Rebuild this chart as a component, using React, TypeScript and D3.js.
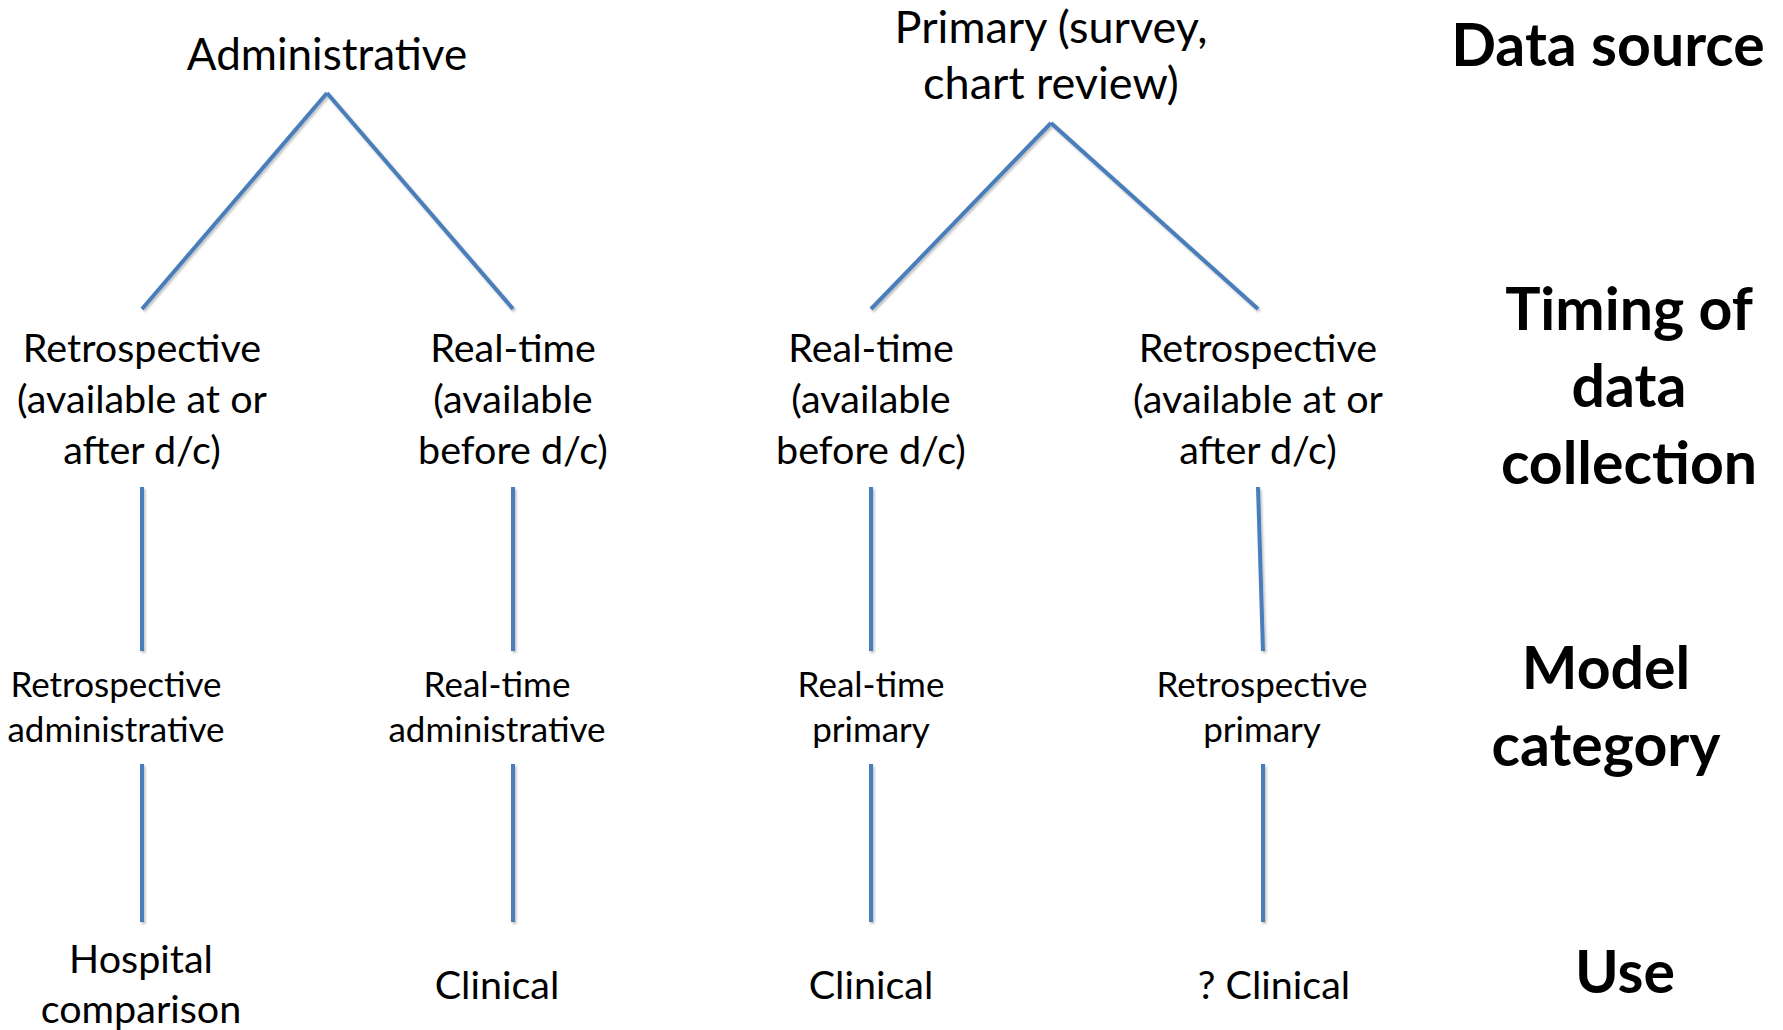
import React from 'react';
import { scaleOrdinal, line } from 'd3';

const width = 1783;
const height = 1030;

// tree content
const sourceLabels = [['Administrative'], ['Primary (survey,', 'chart review)']];
const timingLabels = [
  ['Retrospective', '(available at or', 'after d/c)'],
  ['Real-time', '(available', 'before d/c)'],
  ['Real-time', '(available', 'before d/c)'],
  ['Retrospective', '(available at or', 'after d/c)'],
];
const modelLabels = [
  ['Retrospective', 'administrative'],
  ['Real-time', 'administrative'],
  ['Real-time', 'primary'],
  ['Retrospective', 'primary'],
];
const useLabels = [['Hospital', 'comparison'], ['Clinical'], ['Clinical'], ['? Clinical']];
const tierLabels = [['Data source'], ['Timing of', 'data', 'collection'], ['Model', 'category'], ['Use']];
const parentOf = [0, 0, 1, 1];

const blue = '#4a7ebb';
const font = 'Lato, "Open Sans", sans-serif';

// layout
const srcX = scaleOrdinal<number, number>().domain([0, 1]).range([327, 1051]);
const colX = scaleOrdinal<number, number>().domain([0, 1, 2, 3]).range([142, 513, 871, 1258]);
const lowX = scaleOrdinal<number, number>().domain([0, 1, 2, 3]).range([142, 513, 871, 1263]);
const modelX = scaleOrdinal<number, number>().domain([0, 1, 2, 3]).range([116, 497, 871, 1262]);
const useX = scaleOrdinal<number, number>().domain([0, 1, 2, 3]).range([141, 497, 871, 1274]);
const apexY = [93, 123];
const branchEnd = 309;
const seg1 = [487, 651];
const seg2 = [764, 922];
const tierX = [1608, 1629, 1606, 1625];
const tierY = [66, 330, 689, 993];

const path = line<[number, number]>();

function Label({ x, y, lines, size, lh, bold }: any) {
  return (
    <text x={x} y={y} textAnchor="middle" fontFamily={font} fontSize={size} fontWeight={bold ? 700 : 400} fill="#000">
      {lines.map((l: string, i: number) => (
        <tspan key={i} x={x} y={y + i * lh}>{l}</tspan>
      ))}
    </text>
  );
}

export default function App() {
  return (
    <svg width={width} height={height} style={{ position: 'absolute', left: 0, top: 0, background: '#fff' }}>
      <defs>
        <filter id="sh" x="-20%" y="-20%" width="140%" height="140%">
          <feDropShadow dx="1.5" dy="2" stdDeviation="1.2" floodColor="#000" floodOpacity="0.25" />
        </filter>
      </defs>
      <g stroke={blue} strokeWidth={4} fill="none" filter="url(#sh)">
        {parentOf.map((p, i) => (
          <path key={'b' + i} d={path([[srcX(p), apexY[p]], [colX(i), branchEnd]]) || ''} />
        ))}
        {parentOf.map((p, i) => (
          <path key={'v1' + i} d={path([[colX(i), seg1[0]], [lowX(i), seg1[1]]]) || ''} />
        ))}
        {parentOf.map((p, i) => (
          <path key={'v2' + i} d={path([[lowX(i), seg2[0]], [lowX(i), seg2[1]]]) || ''} />
        ))}
      </g>
      {sourceLabels.map((l, i) => (
        <Label key={'s' + i} x={srcX(i)} y={i === 0 ? 70 : 43} lines={l} size={i === 0 ? 44 : 45} lh={56} />
      ))}
      {timingLabels.map((l, i) => (
        <Label key={'t' + i} x={colX(i)} y={362} lines={l} size={39.5} lh={51} />
      ))}
      {modelLabels.map((l, i) => (
        <Label key={'m' + i} x={modelX(i)} y={697} lines={l} size={35} lh={45} />
      ))}
      {useLabels.map((l, i) => (
        <Label key={'u' + i} x={useX(i)} y={l.length > 1 ? 973 : 999} lines={l} size={39.5} lh={50} />
      ))}
      {tierLabels.map((l, i) => (
        <Label key={'r' + i} x={tierX[i]} y={tierY[i]} lines={l} size={59} lh={77} bold />
      ))}
    </svg>
  );
}
